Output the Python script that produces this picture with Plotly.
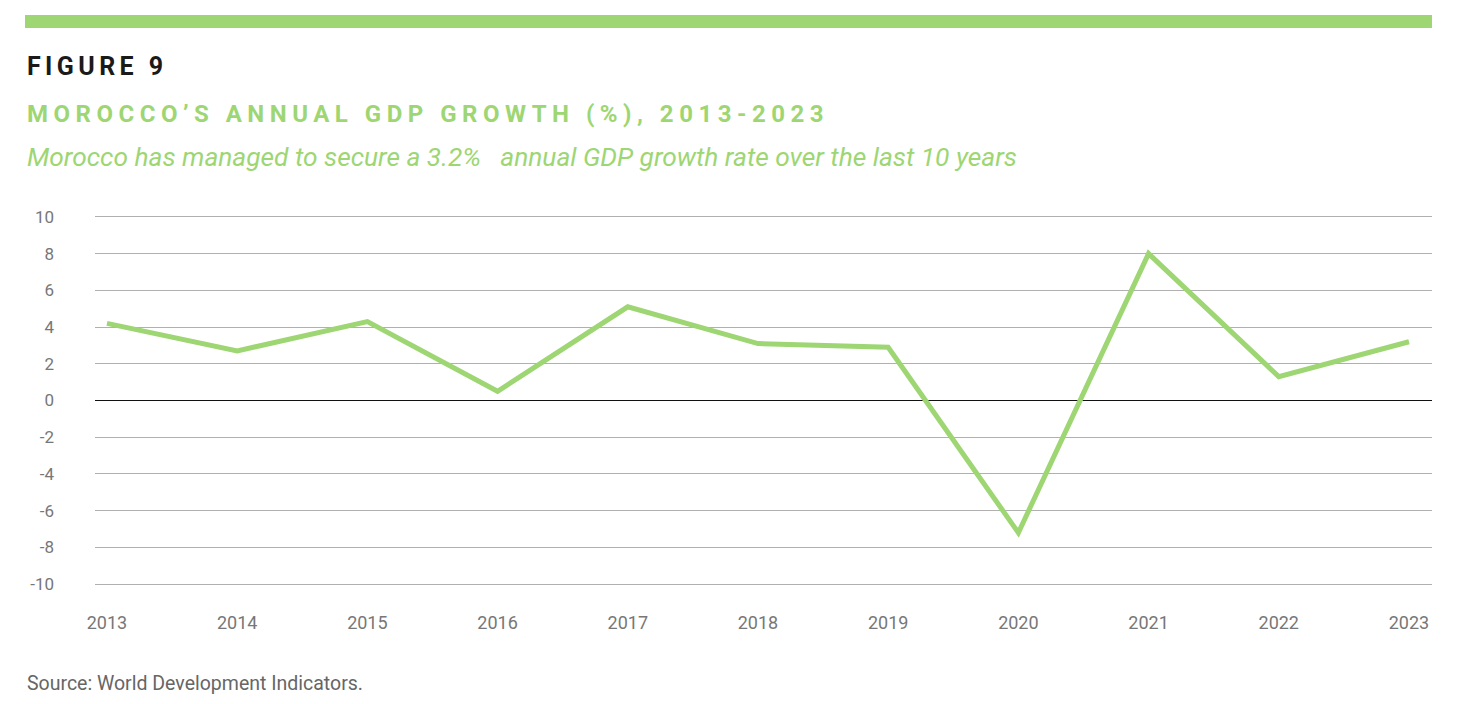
import plotly.graph_objects as go

years = [2013, 2014, 2015, 2016, 2017, 2018, 2019, 2020, 2021, 2022, 2023]
gdp_growth = [4.2, 2.7, 4.3, 0.5, 5.1, 3.1, 2.9, -7.2, 8.0, 1.3, 3.2]
y_ticks = [10, 8, 6, 4, 2, 0, -2, -4, -6, -8, -10]

GREEN = "#9dd672"
W, H = 1478, 704
L, R, T, B = 95, 46, 215, 118
PH = H - T - B
PW = W - L - R

def py(px):
    return (H - B - px) / PH

def px_x(px):
    return (px - L) / PW

fig = go.Figure()
fig.add_trace(go.Scatter(
    x=list(range(len(years))), y=gdp_growth, mode="lines",
    line=dict(color=GREEN, width=5), hoverinfo="skip", showlegend=False,
))

fig.update_layout(
    width=W, height=H,
    margin=dict(l=L, r=R, t=T, b=B),
    paper_bgcolor="white", plot_bgcolor="white",
    font=dict(family="Roboto", color="#777777"),
    xaxis=dict(
        range=[-0.092, 10.177], tickvals=list(range(len(years))),
        ticktext=[str(y) for y in years], showgrid=False, zeroline=False,
        showline=False, ticks="", tickfont=dict(size=18, color="#777777"),
        ticklabelstandoff=24,
    ),
    yaxis=dict(
        range=[-10.1, 10.1], tickvals=y_ticks, ticktext=[str(v) for v in y_ticks],
        showgrid=True, gridcolor="#b0b0b0", gridwidth=1,
        zeroline=True, zerolinecolor="#111111", zerolinewidth=1,
        showline=False, ticks="", tickfont=dict(size=17, color="#777777"),
        ticklabelstandoff=40,
    ),
    shapes=[dict(
        type="rect", xref="paper", yref="paper",
        x0=px_x(25), x1=px_x(1432), y0=py(28), y1=py(15),
        fillcolor=GREEN, line=dict(width=0), layer="above",
    )],
    annotations=[
        dict(text="<b>FIGURE 9</b>", xref="paper", yref="paper",
             x=px_x(25), y=py(66), xanchor="left", yanchor="middle", align="left",
             showarrow=False, font=dict(size=25, color="#1a1a1a", family="Roboto")),
        dict(text="<b>MOROCCO\u2019S ANNUAL GDP GROWTH (%), 2013-2023</b>", xref="paper", yref="paper",
             x=px_x(25), y=py(114), xanchor="left", yanchor="middle", align="left",
             showarrow=False, font=dict(size=24, color=GREEN, family="Roboto")),
        dict(text="<i>Morocco has managed to secure a 3.2%   annual GDP growth rate over the last 10 years</i>",
             xref="paper", yref="paper",
             x=px_x(25), y=py(157), xanchor="left", yanchor="middle", align="left",
             showarrow=False, font=dict(size=26.3, color=GREEN, family="Roboto")),
        dict(text="Source: World Development Indicators.", xref="paper", yref="paper",
             x=px_x(25), y=py(683), xanchor="left", yanchor="middle", align="left",
             showarrow=False, font=dict(size=19.5, color="#666666", family="Roboto")),
    ],
)

post = """
document.body.style.margin = '0';
var gd = document.getElementsByClassName('plotly-graph-div')[0];
function spaceOut(){
  var txts = gd.querySelectorAll('.annotation-text');
  txts.forEach(function(t){
    var s = t.textContent;
    if (s.indexOf('FIGURE') === 0) { t.style.letterSpacing = '4.4px'; }
    else if (s.indexOf('MOROCCO') === 0) { t.style.letterSpacing = '5.5px'; }
  });
}
spaceOut();
gd.on('plotly_afterplot', spaceOut);
"""

fig.write_html("out.html", post_script=post, config={"displayModeBar": False})
